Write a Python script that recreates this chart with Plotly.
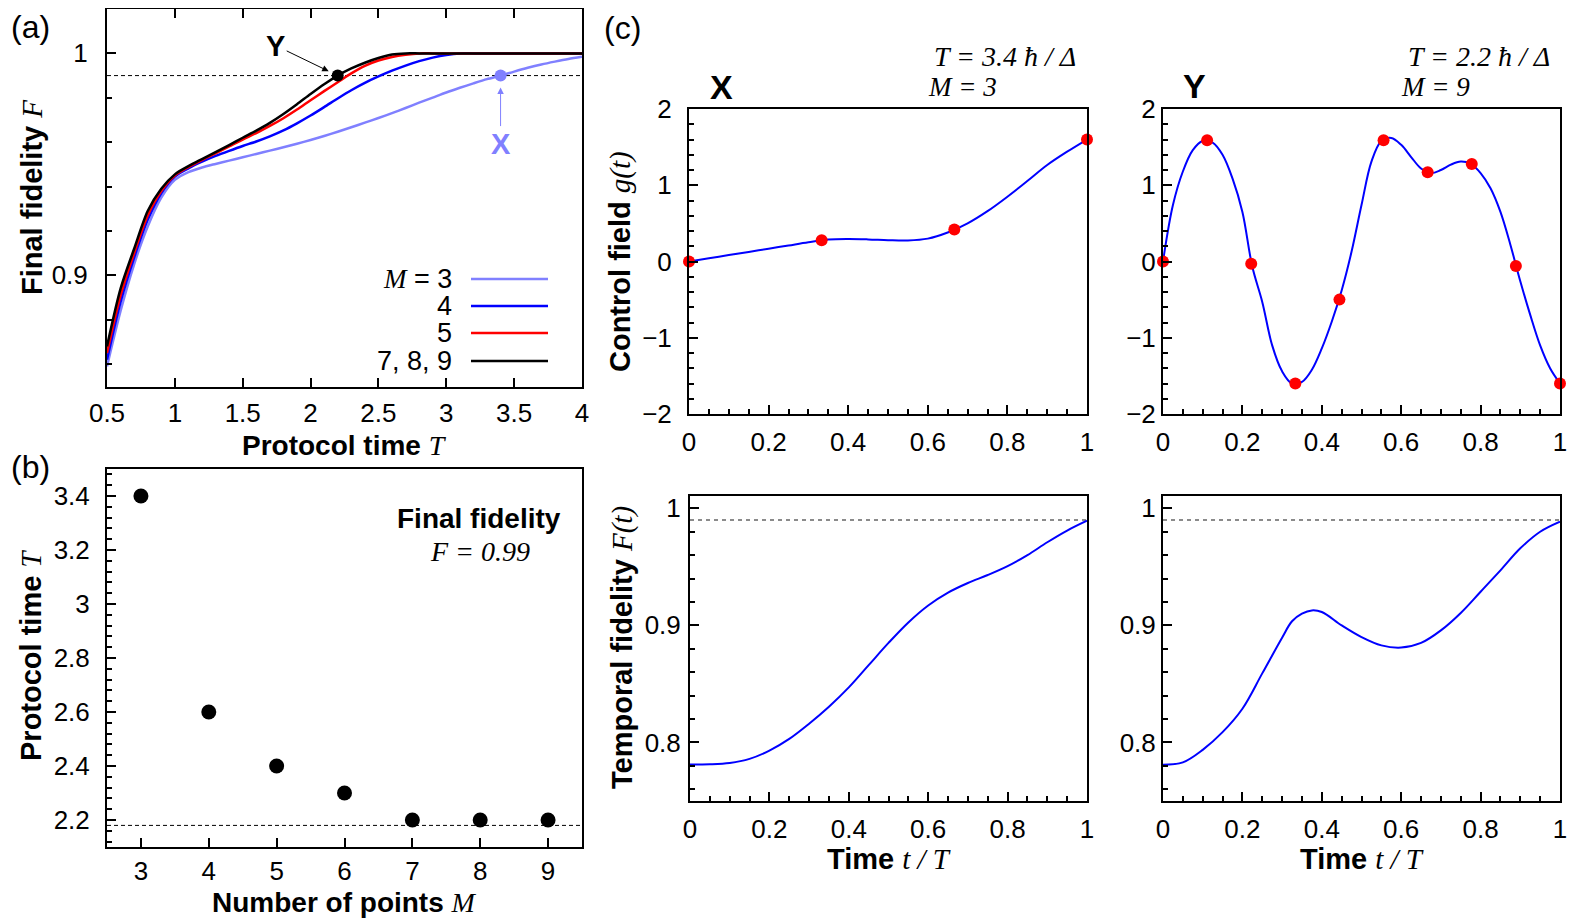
import plotly.graph_objects as go

# the page body keeps its default 8px margin, so the figure is laid out
# in reference pixels shifted by OFF
OFF = 8
W, H = 1578 - OFF, 920 - OFF
SANS = "Liberation Sans, Arial, Helvetica, sans-serif"
SERIF = "Liberation Serif, Times New Roman, serif"

# ---------------- panel (a): final fidelity vs protocol time
T_grid = [0.5, 0.6, 0.7, 0.8, 0.9, 1.0, 1.1, 1.2, 1.3, 1.4, 1.5, 1.6, 1.7, 1.8,
          1.9, 2.0, 2.1, 2.2, 2.3, 2.4, 2.5, 2.6, 2.7, 2.8, 2.9, 3.0, 3.1, 3.2,
          3.3, 3.4, 3.5, 3.6, 3.7, 3.8, 3.9, 4.0]
F_M3 = [0.859, 0.884, 0.905, 0.922, 0.935, 0.9430, 0.9465, 0.9486, 0.9502, 0.9517,
        0.9532, 0.9547, 0.9562, 0.9577, 0.9593, 0.9610, 0.9628, 0.9647, 0.9667, 0.9688,
        0.9709, 0.9731, 0.9754, 0.9778, 0.9801, 0.9824, 0.9845, 0.9865, 0.9884, 0.9900,
        0.9918, 0.9935, 0.9950, 0.9963, 0.9975, 0.9985]
F_M4 = [0.862, 0.888, 0.908, 0.925, 0.937, 0.9445, 0.9482, 0.9512, 0.9538, 0.9561,
        0.9583, 0.9603, 0.9626, 0.9653, 0.9685, 0.9720, 0.9758, 0.9797, 0.9834, 0.9867,
        0.9896, 0.9922, 0.9945, 0.9965, 0.9981, 0.9993, 1.0, 1.0, 1.0, 1.0,
        1.0, 1.0, 1.0, 1.0, 1.0, 1.0]
F_M5 = [0.865, 0.891, 0.910, 0.927, 0.938, 0.9450, 0.9488, 0.9520, 0.9550, 0.9581,
        0.9612, 0.9641, 0.9673, 0.9708, 0.9747, 0.9789, 0.9830, 0.9870, 0.9910, 0.9944,
        0.9968, 0.9984, 0.9994, 1.0, 1.0, 1.0, 1.0, 1.0, 1.0, 1.0,
        1.0, 1.0, 1.0, 1.0, 1.0, 1.0]
F_M789 = [0.868, 0.894, 0.912, 0.929, 0.939, 0.9455, 0.9492, 0.9524, 0.9555, 0.9587,
          0.9620, 0.9652, 0.9687, 0.9727, 0.9771, 0.9817, 0.9861, 0.9900, 0.9932, 0.9958,
          0.9979, 0.9995, 1.0, 1.0, 1.0, 1.0, 1.0, 1.0, 1.0, 1.0,
          1.0, 1.0, 1.0, 1.0, 1.0, 1.0]
F_target = 0.99
T_X = 3.4
T_Y = 2.2

# ---------------- panel (b): minimal protocol time vs number of points
M_points = [3, 4, 5, 6, 7, 8, 9]
T_min = [3.4, 2.6, 2.4, 2.3, 2.2, 2.2, 2.2]
T_limit = 2.18

# ---------------- panel (c): control fields and temporal fidelity
t_nodes_X = [0, 1 / 3, 2 / 3, 1]
g_nodes_X = [0.0, 0.28, 0.42, 1.60]
t_curve_X = [0, 0.05, 0.1, 0.15, 0.2, 0.25, 0.3, 0.35, 0.4, 0.45, 0.5, 0.55,
             0.6, 0.65, 0.7, 0.75, 0.8, 0.85, 0.9, 0.95, 1.0]
g_curve_X = [0.0, 0.042, 0.084, 0.126, 0.168, 0.210, 0.252, 0.288, 0.295, 0.290,
             0.280, 0.276, 0.300, 0.380, 0.500, 0.660, 0.850, 1.055, 1.265, 1.440, 1.600]

t_nodes_Y = [0, 1 / 9, 2 / 9, 3 / 9, 4 / 9, 5 / 9, 6 / 9, 7 / 9, 8 / 9, 1]
g_nodes_Y = [0.0, 1.59, -0.03, -1.60, -0.50, 1.59, 1.17, 1.28, -0.06, -1.60]
t_curve_Y = [0, 0.025, 0.05, 0.075, 0.1, 0.125, 0.15, 0.175, 0.2, 0.225, 0.25,
             0.275, 0.3, 0.325, 0.35, 0.375, 0.4, 0.425, 0.45, 0.475, 0.5, 0.525,
             0.55, 0.575, 0.6, 0.625, 0.65, 0.675, 0.7, 0.725, 0.75, 0.775, 0.8,
             0.825, 0.85, 0.875, 0.9, 0.925, 0.95, 0.975, 1.0]
g_curve_Y = [0.00, 0.74, 1.18, 1.46, 1.58, 1.56, 1.40, 1.09, 0.65, -0.07, -0.53,
             -1.10, -1.44, -1.60, -1.58, -1.42, -1.14, -0.79, -0.38, 0.13, 0.74, 1.31,
             1.58, 1.62, 1.53, 1.37, 1.22, 1.16, 1.20, 1.27, 1.31, 1.28, 1.16,
             0.96, 0.65, 0.22, -0.26, -0.70, -1.10, -1.40, -1.60]

t_fid_X = [0, 0.05, 0.1, 0.15, 0.2, 0.25, 0.3, 0.35, 0.4, 0.45, 0.5, 0.55,
           0.6, 0.65, 0.7, 0.75, 0.8, 0.85, 0.9, 0.95, 1.0]
F_fid_X = [0.7812, 0.7814, 0.7825, 0.7860, 0.7930, 0.8030, 0.8160, 0.8305, 0.8470,
           0.8660, 0.8850, 0.9025, 0.9170, 0.9280, 0.9362, 0.9430, 0.9506, 0.9600,
           0.9710, 0.9810, 0.9894]
t_fid_Y = [0, 0.05, 0.1, 0.15, 0.2, 0.25, 0.3, 0.325, 0.35, 0.375, 0.4, 0.45, 0.5,
           0.55, 0.6, 0.65, 0.7, 0.75, 0.8, 0.85, 0.9, 0.95, 1.0]
F_fid_Y = [0.7810, 0.7830, 0.7937, 0.8088, 0.8288, 0.8590, 0.8895, 0.9035, 0.9100,
           0.9128, 0.9114, 0.9000, 0.8900, 0.8829, 0.8810, 0.8850, 0.8957, 0.9106,
           0.9287, 0.9470, 0.9658, 0.9800, 0.9886]

LIGHT = "#8080ff"
BLUE = "#0000ff"
RED = "#ff0000"


def px(x):
    return (x - OFF) / W


def py(y):
    return 1 - (y - OFF) / H


def it(s):
    return f"<i><span style='font-family:Liberation Serif'>{s}</span></i>"


def axis(dom, rng, dtick, tick0, minor=None, mirror=True, anchor=None, standoff=10):
    d = dict(domain=dom, range=rng, dtick=dtick, tick0=tick0, anchor=anchor,
             showline=True, linecolor="black", linewidth=2, mirror=mirror,
             ticks="inside", ticklen=9, tickwidth=1.5, tickcolor="black",
             showgrid=False, zeroline=False, automargin=False,
             ticklabelstandoff=standoff,
             tickfont=dict(family=SANS, size=26, color="black"))
    if minor:
        d["minor"] = dict(dtick=minor[0], tick0=minor[1], ticks="inside", ticklen=5,
                          tickwidth=1.5, tickcolor="black")
    return d


fig = go.Figure()

# (a)
for F, col in [(F_M3, LIGHT), (F_M4, BLUE), (F_M5, RED), (F_M789, "black")]:
    fig.add_trace(go.Scatter(x=T_grid, y=F, mode="lines", line_shape="spline",
                             line=dict(color=col, width=2.5, smoothing=0.8),
                             xaxis="x", yaxis="y"))
fig.add_trace(go.Scatter(x=[T_Y], y=[F_target], mode="markers",
                         marker=dict(color="black", size=12), xaxis="x", yaxis="y"))
fig.add_trace(go.Scatter(x=[T_X], y=[F_target], mode="markers",
                         marker=dict(color=LIGHT, size=12), xaxis="x", yaxis="y"))

# (b)
fig.add_trace(go.Scatter(x=M_points, y=T_min, mode="markers", cliponaxis=False,
                         marker=dict(color="black", size=15), xaxis="x2", yaxis="y2"))

# (c) control fields
fig.add_trace(go.Scatter(x=t_curve_X, y=g_curve_X, mode="lines", line_shape="spline",
                         line=dict(color=BLUE, width=2), xaxis="x3", yaxis="y3"))
fig.add_trace(go.Scatter(x=t_nodes_X, y=g_nodes_X, mode="markers", cliponaxis=False,
                         marker=dict(color=RED, size=12), xaxis="x3", yaxis="y3"))
fig.add_trace(go.Scatter(x=t_curve_Y, y=g_curve_Y, mode="lines", line_shape="spline",
                         line=dict(color=BLUE, width=2), xaxis="x4", yaxis="y4"))
fig.add_trace(go.Scatter(x=t_nodes_Y, y=g_nodes_Y, mode="markers", cliponaxis=False,
                         marker=dict(color=RED, size=12), xaxis="x4", yaxis="y4"))

# (c) temporal fidelity
fig.add_trace(go.Scatter(x=t_fid_X, y=F_fid_X, mode="lines", line_shape="spline",
                         line=dict(color=BLUE, width=2), xaxis="x5", yaxis="y5"))
fig.add_trace(go.Scatter(x=t_fid_Y, y=F_fid_Y, mode="lines", line_shape="spline",
                         line=dict(color=BLUE, width=2), xaxis="x6", yaxis="y6"))

# dashed reference lines
shapes = [
    dict(type="line", xref="x domain", x0=0, x1=1, yref="y", y0=F_target, y1=F_target,
         line=dict(color="black", width=1, dash="4px,3px"), layer="below"),
    dict(type="line", xref="x2 domain", x0=0, x1=1, yref="y2", y0=T_limit, y1=T_limit,
         line=dict(color="black", width=1, dash="4px,3px"), layer="below"),
    dict(type="line", xref="x5 domain", x0=0, x1=1, yref="y5", y0=F_target, y1=F_target,
         line=dict(color="#666666", width=1.5, dash="4px,4px"), layer="below"),
    dict(type="line", xref="x6 domain", x0=0, x1=1, yref="y6", y0=F_target, y1=F_target,
         line=dict(color="#666666", width=1.5, dash="4px,4px"), layer="below"),
]

# legend of panel (a): label left, line sample right
leg_labels = [it("M") + " = 3", "4", "5", "7, 8, 9"]
leg_colors = [LIGHT, BLUE, RED, "black"]
leg_y = [279, 306, 333, 361]
annotations = []
for lab, col, yy in zip(leg_labels, leg_colors, leg_y):
    shapes.append(dict(type="line", xref="paper", yref="paper", x0=px(471), x1=px(548),
                       y0=py(yy), y1=py(yy), line=dict(color=col, width=2.5)))
    annotations.append(dict(text=lab, xref="paper", yref="paper", x=px(454), y=py(yy),
                            xanchor="right", yanchor="middle", showarrow=False,
                            font=dict(family=SANS, size=27, color="black")))


def note(text, x, y, size=29, xanchor="center", angle=0, family=SANS, color="black"):
    annotations.append(dict(text=text, xref="paper", yref="paper", x=px(x), y=py(y),
                            xanchor=xanchor, yanchor="middle", showarrow=False,
                            textangle=angle, font=dict(family=family, size=size, color=color)))


# axis titles
note("<b>Final fidelity</b> " + it("F"), 32, 198, angle=-90)
note("<b>Protocol time</b> " + it("T"), 344, 445, size=28)
note("<b>Protocol time</b> " + it("T"), 31, 656, angle=-90)
note("<b>Number of points</b> " + it("M"), 344, 902, size=28)
note("<b>Control field</b> " + it("g(t)"), 621, 262, angle=-90)
note("<b>Temporal fidelity</b> " + it("F(t)"), 622, 648, angle=-90)
note("<b>Time</b> " + it("t / T"), 889, 859)
note("<b>Time</b> " + it("t / T"), 1362, 859)

# panel labels and texts
note("(a)", 9, 27, size=32, xanchor="left")
note("(b)", 9, 467, size=32, xanchor="left")
note("(c)", 602, 28, size=32, xanchor="left")
note("<b>X</b>", 721, 87, size=34)
note("<b>Y</b>", 1194, 86, size=34)
note("<i>T = 3.4 ħ / Δ</i>", 1078, 57, size=28, xanchor="right", family=SERIF)
note("<i>M = 3</i>", 926, 87, size=27, xanchor="left", family=SERIF)
note("<i>T = 2.2 ħ / Δ</i>", 1552, 57, size=28, xanchor="right", family=SERIF)
note("<i>M = 9</i>", 1399, 87, size=27, xanchor="left", family=SERIF)
note("<b>Final fidelity</b>", 479, 518, size=28)
note("<i>F = 0.99</i>", 480, 551, size=28, family=SERIF)

# arrows pointing at the X and Y protocols
annotations.append(dict(text="<b>Y</b>", x=T_Y, y=F_target, xref="x", yref="y",
                        ax=-62, ay=-30, showarrow=True, arrowhead=2, arrowsize=1.3,
                        arrowwidth=1, arrowcolor="black", standoff=10,
                        font=dict(family=SANS, size=29, color="black")))
annotations.append(dict(text="<b>X</b>", x=T_X, y=F_target, xref="x", yref="y",
                        ax=0, ay=68, showarrow=True, arrowhead=2, arrowsize=1.3,
                        arrowwidth=1, arrowcolor=LIGHT, standoff=12,
                        font=dict(family=SANS, size=29, color=LIGHT)))

fig.update_layout(
    width=W, height=H, margin=dict(l=0, r=0, t=0, b=0), autosize=False,
    plot_bgcolor="white", paper_bgcolor="white", showlegend=False,
    xaxis=axis([px(107), px(582)], [0.5, 4], 0.5, 0.5, mirror="ticks", anchor="y", standoff=2),
    yaxis=axis([py(387), py(9)], [0.8497, 1.02], 0.1, 0.9, minor=(0.02, 0.9), anchor="x", standoff=12),
    xaxis2=axis([px(107), px(582)], [2.5, 9.5], 1, 3, anchor="y2", standoff=0),
    yaxis2=axis([py(847), py(469)], [2.1, 3.5], 0.2, 2.2, minor=(0.04, 2.2), anchor="x2", standoff=10),
    xaxis3=axis([px(689), px(1087)], [0, 1], 0.2, 0, minor=(0.05, 0), anchor="y3", standoff=4),
    yaxis3=axis([py(414), py(109)], [-2, 2], 1, 0, minor=(0.2, 0), anchor="x3", standoff=10),
    xaxis4=axis([px(1163), px(1560)], [0, 1], 0.2, 0, minor=(0.05, 0), anchor="y4", standoff=4),
    yaxis4=axis([py(414), py(109)], [-2, 2], 1, 0, minor=(0.2, 0), anchor="x4", standoff=0),
    xaxis5=axis([px(690), px(1087)], [0, 1], 0.2, 0, minor=(0.05, 0), anchor="y5", standoff=4),
    yaxis5=axis([py(801), py(496)], [0.75, 1.0105], 0.1, 0.8, minor=(0.02, 0.8), anchor="x5", standoff=2),
    xaxis6=axis([px(1163), px(1560)], [0, 1], 0.2, 0, minor=(0.05, 0), anchor="y6", standoff=4),
    yaxis6=axis([py(801), py(496)], [0.75, 1.0105], 0.1, 0.8, minor=(0.02, 0.8), anchor="x6", standoff=0),
    shapes=shapes,
    annotations=annotations,
)

fig.write_html("out.html")
